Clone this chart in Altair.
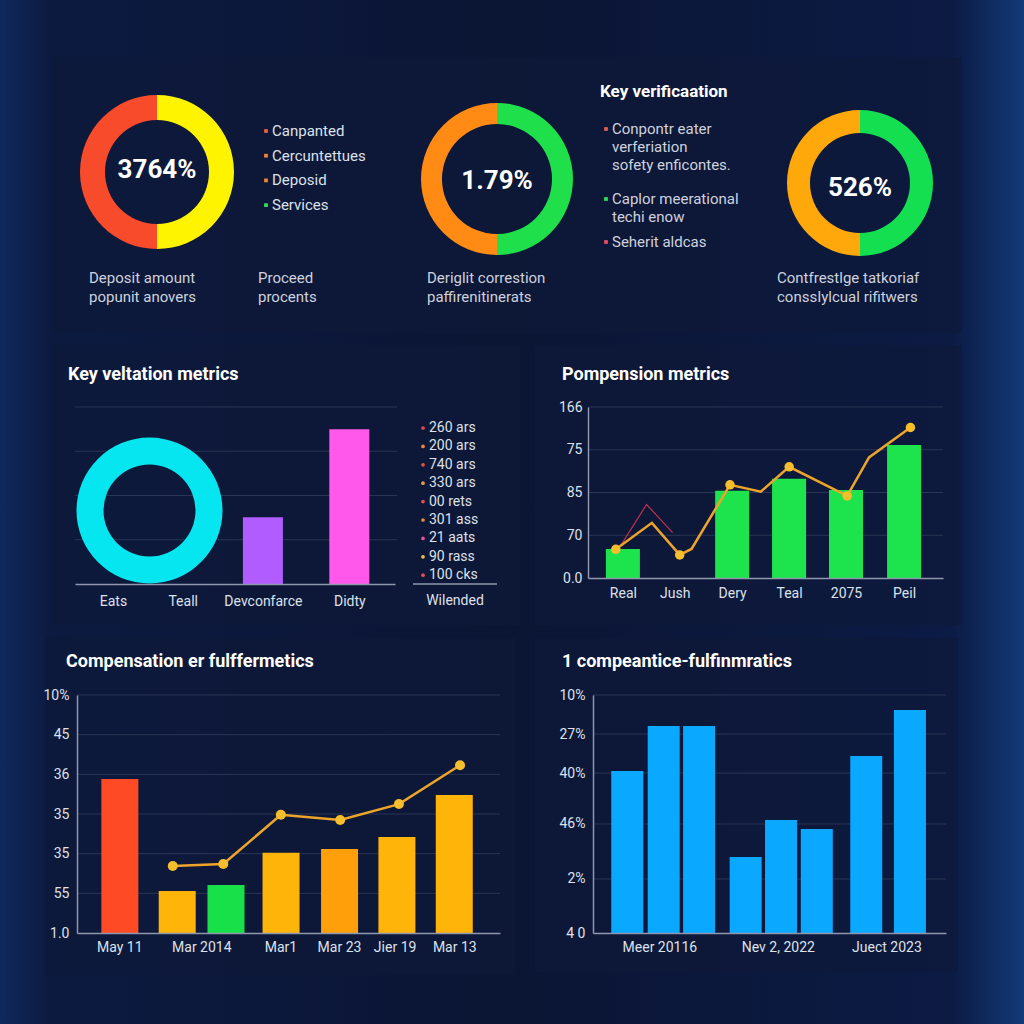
import altair as alt
import pandas as pd

# ------------------------------------------------------------------
# Values
# ------------------------------------------------------------------
# top row: three split rings with their side notes
ring_labels = ["3764%", "1.79%", "526%"]
ring_shares = [[50, 50], [50, 50], [50, 50]]
ring_colors = [["#fff400", "#f84b2b"], ["#1fdf4b", "#ff8b15"], ["#13df50", "#ffa80c"]]

status_items = ["Canpanted", "Cercuntettues", "Deposid", "Services"]
status_colors = ["#ef5f3a", "#f5862c", "#f5862c", "#2fdf5c"]

caption_lines = [
    ["Deposit amount", "popunit anovers"],
    ["Proceed", "procents"],
    ["Deriglit correstion", "paffirenitinerats"],
    ["Contfrestlge tatkoriaf", "conssIylcual rifitwers"],
]

verify_title = "Key verificaation"
verify_notes = [
    ["Conpontr eater", "verferiation", "sofety enficontes."],
    ["Caplor meerational", "techi enow"],
    ["Seherit aldcas"],
]
verify_colors = ["#e2604d", "#2fdf5c", "#e84a6c"]

# middle left: ring + two bars + side list
kv_title = "Key veltation metrics"
kv_categories = ["Eats", "Teall", "Devconfarce", "Didty"]
kv_bar_categories = ["Devconfarce", "Didty"]
kv_bar_values = [1.51, 3.5]
kv_bar_colors = ["#b05cff", "#ff58ea"]
kv_ring_share = [1]
kv_ring_color = "#05e6f0"
kv_list = ["260 ars", "200 ars", "740 ars", "330 ars", "00 rets",
           "301 ass", "21 aats", "90 rass", "100 cks"]
kv_list_colors = ["#e8484c", "#f0803a", "#e8503e", "#e3a03a", "#e64a5c",
                  "#e98a32", "#e8509a", "#f2c23a", "#e64a5c"]
kv_list_axis = "Wilended"

# middle right: bars with a trend line
pm_title = "Pompension metrics"
pm_categories = ["Real", "Jush", "Dery", "Teal", "2075", "Peil"]
pm_bar_values = [0.68, None, 2.04, 2.32, 2.06, 3.11]
pm_bar_color = "#1de44c"
pm_tick_labels = ["0.0", "70", "85", "75", "166"]
pm_line_x = [0.47, 1.08, 1.55, 1.75, 2.40, 2.92, 3.40, 4.38, 4.75, 5.45]
pm_line_y = [0.67, 1.29, 0.54, 0.68, 2.18, 2.02, 2.60, 1.92, 2.82, 3.52]
pm_line_marked = [True, False, True, False, True, False, True, True, False, True]
pm_thin_x = [0.54, 0.99, 1.43]
pm_thin_y = [0.73, 1.72, 1.06]

# bottom left: coloured bars with a trend line
cf_title = "Compensation er fulffermetics"
cf_categories = ["May 11", "Mar 2014", "Mar1", "Mar 23", "Jier 19", "Mar 13"]
cf_bar_values = [3.88, 1.06, 1.21, 2.02, 2.12, 2.42, 3.48]
cf_bar_colors = ["#ff4a26", "#ffb40a", "#18e048", "#ffb40a", "#ffa00a", "#ffb40a", "#ffb40a"]
cf_tick_labels = ["1.0", "55", "35", "35", "36", "45", "10%"]
cf_line_x = [1.63, 2.49, 3.47, 4.48, 5.48, 6.52]
cf_line_y = [1.69, 1.74, 2.98, 2.85, 3.25, 4.23]

# bottom right: grouped blue bars
bf_title = "1 compeantice-fulfinmratics"
bf_categories = ["Meer 20116", "Nev 2, 2022", "Juect 2023"]
bf_bar_values = [68.1, 87.0, 87.0, 31.9, 47.5, 43.7, 74.4, 93.7]
bf_bar_color = "#0aa8ff"
bf_tick_values = [0, 22.7, 45.8, 67.2, 83.6, 100]
bf_tick_labels = ["4 0", "2%", "46%", "40%", "27%", "10%"]

# ------------------------------------------------------------------
# Layout and style
# ------------------------------------------------------------------
W = H = 1024
FONT = "Roboto"
TEXT = "#dde1ea"
SOFT_TEXT = "#cdd2de"
AXIS_LINE = "#8e97ae"
GRID = "#2a3553"
PANEL = "#0f1939"
LINE_GOLD = "#eca52a"
DOT_GOLD = "#f6bd2c"

RING_GEOM = [(157, 172, 77, 52), (497, 179, 76, 55), (860, 183, 73, 50)]
RING_TEXT_Y = [170, 181, 188]
STATUS_X, STATUS_Y0, STATUS_STEP = 266, 131, 24.7
CAPTION_X = [89, 258, 427, 777]
CAPTION_Y0, CAPTION_STEP = 278, 19
VERIFY_X, VERIFY_TITLE_Y = 606, 92
VERIFY_GROUP_Y, VERIFY_STEP = [129, 199, 242], 18

PANELS = [(52, 57, 962, 333), (52, 345, 520, 625), (535, 345, 962, 625),
          (45, 638, 515, 975), (535, 638, 958, 972)]

# plot boxes: (left, right, baseline, top)
KV_BOX = (75, 395, 584, 407)
PM_BOX = (588, 943, 578, 407)
CF_BOX = (77, 500, 933, 695)
BF_BOX = (593, 946, 933, 695)

KV_SLOTS = [0.425, 1.325, 2.36, 3.475]
PM_SLOTS = [0.52, 1.42, 2.42, 3.41, 4.40, 5.41]
CF_BAR_SLOTS = [0.66, 1.66, 2.51, 3.47, 4.49, 5.49, 6.49]
CF_LABEL_SLOTS = [0.65, 2.08, 3.46, 4.48, 5.45, 6.49]
BF_BAR_SLOTS = [0.81, 1.82, 2.80, 4.09, 5.07, 6.06, 7.43, 8.64]
BF_LABEL_SLOTS = [1.70, 4.98, 7.99]

ONE = pd.DataFrame({"k": [0]})


def label_expr(values, labels):
    expr = "''"
    for v, t in reversed(list(zip(values, labels))):
        expr = f"abs(datum.value - ({v})) < 0.001 ? '{t}' : {expr}"
    return expr


def x_axis(values, labels, baseline, pad):
    return alt.Axis(orient="bottom", offset=baseline - H, values=values,
                    labelExpr=label_expr(values, labels), ticks=False, grid=False,
                    domainColor=AXIS_LINE, domainWidth=1.5, labelColor=TEXT,
                    labelFont=FONT, labelFontSize=14, labelPadding=pad,
                    labelFlush=False, labelOverlap=False, title=None, zindex=2)


def y_axis(values, labels, left, pad):
    return alt.Axis(orient="left", offset=-left, values=values,
                    labelExpr=label_expr(values, labels), ticks=False, grid=False,
                    domainColor=AXIS_LINE, domainWidth=1.5, labelColor=TEXT,
                    labelFont=FONT, labelFontSize=14, labelPadding=pad,
                    labelFlush=False, labelOverlap=False, title=None, zindex=2)


def lin(domain, rng):
    return alt.Scale(domain=domain, range=list(rng), nice=False, zero=False)


def box(x0, y0, x1, y1, color, opacity=1.0):
    return alt.Chart(ONE).mark_rect(color=color, opacity=opacity).encode(
        x=alt.value(x0), x2=alt.value(x1), y=alt.value(y0), y2=alt.value(y1))


def rule(x0, y0, x1, y1, color, width):
    return alt.Chart(ONE).mark_rule(color=color, strokeWidth=width).encode(
        x=alt.value(x0), x2=alt.value(x1), y=alt.value(y0), y2=alt.value(y1))


def texts(rows, size, weight="normal", color=TEXT, align="left"):
    df = pd.DataFrame(rows, columns=["t", "px", "py"])
    return alt.Chart(df).mark_text(font=FONT, fontSize=size, fontWeight=weight,
                                   color=color, align=align, baseline="middle").encode(
        x=alt.X("px:Q", scale=None, axis=None),
        y=alt.Y("py:Q", scale=None, axis=None),
        text="t:N")


def dots(rows, size, shape="square"):
    df = pd.DataFrame(rows, columns=["c", "px", "py"])
    return alt.Chart(df).mark_point(filled=True, shape=shape, size=size, opacity=1).encode(
        x=alt.X("px:Q", scale=None, axis=None),
        y=alt.Y("py:Q", scale=None, axis=None),
        color=alt.Color("c:N", scale=None))


def ring(shares, colors, cx, cy, r_out, r_in):
    df = pd.DataFrame({"slot": list(range(len(shares))), "share": shares, "color": colors})
    return alt.Chart(df).mark_arc(radius=r_out, radius2=r_in).encode(
        theta=alt.Theta("share:Q", stack=True),
        color=alt.Color("color:N", scale=None),
        order=alt.Order("slot:Q"),
        x=alt.value(cx), y=alt.value(cy))


def gridlines(values, yscale, x0, x1):
    df = pd.DataFrame({"v": values})
    return alt.Chart(df).mark_rule(color=GRID, strokeWidth=1).encode(
        y=alt.Y("v:Q", scale=yscale, axis=None), x=alt.value(x0), x2=alt.value(x1))


layers = []

# page background and panels
bg = alt.LinearGradient(gradient="linear", x1=0, x2=1, y1=0, y2=0, stops=[
    alt.GradientStop(offset=0, color="#10295c"),
    alt.GradientStop(offset=0.05, color="#0c1a40"),
    alt.GradientStop(offset=0.5, color="#0b1534"),
    alt.GradientStop(offset=0.93, color="#0c1b44"),
    alt.GradientStop(offset=1, color="#123a78"),
])
layers.append(alt.Chart(ONE).mark_rect(color=bg).encode(
    x=alt.value(0), x2=alt.value(W), y=alt.value(0), y2=alt.value(H)))
for (x0, y0, x1, y1) in PANELS:
    layers.append(box(x0, y0, x1, y1, PANEL, 0.6))

# ---- top row ----
for shares, colors, (cx, cy, ro, ri) in zip(ring_shares, ring_colors, RING_GEOM):
    layers.append(ring(shares, colors, cx, cy, ro, ri))
layers.append(texts([(t, g[0], ty) for t, g, ty in zip(ring_labels, RING_GEOM, RING_TEXT_Y)],
                    26, "bold", "#ffffff", "center"))

layers.append(dots([(c, STATUS_X, STATUS_Y0 + i * STATUS_STEP) for i, c in enumerate(status_colors)], 14))
layers.append(texts([(t, STATUS_X + 6, STATUS_Y0 + i * STATUS_STEP) for i, t in enumerate(status_items)], 15))

cap_rows = []
for cx, lines in zip(CAPTION_X, caption_lines):
    for j, t in enumerate(lines):
        cap_rows.append((t, cx, CAPTION_Y0 + j * CAPTION_STEP))
layers.append(texts(cap_rows, 15, color=SOFT_TEXT))

layers.append(texts([(verify_title, VERIFY_X - 6, VERIFY_TITLE_Y)], 17, "bold", "#ffffff"))
note_rows, note_dots = [], []
for gy, lines, c in zip(VERIFY_GROUP_Y, verify_notes, verify_colors):
    note_dots.append((c, VERIFY_X, gy))
    for j, t in enumerate(lines):
        note_rows.append((t, VERIFY_X + 6, gy + j * VERIFY_STEP))
layers.append(dots(note_dots, 14))
layers.append(texts(note_rows, 15, color=SOFT_TEXT))

# ---- middle left ----
kx0, kx1, kyb, kyt = KV_BOX
kv_xs = lin([0, 4], (kx0, kx1))
kv_ys = lin([0, 4], (kyb, kyt))
layers.append(gridlines([1, 2, 3, 4], kv_ys, kx0, kx1 + 2))
layers.append(ring(kv_ring_share, [kv_ring_color], 149.5, 510.5, 73, 46))
kv_df = pd.DataFrame({
    "slot": [KV_SLOTS[kv_categories.index(c)] for c in kv_bar_categories],
    "value": kv_bar_values, "color": kv_bar_colors})
layers.append(alt.Chart(kv_df).mark_bar(size=40, orient="vertical").encode(
    x=alt.X("slot:Q", scale=kv_xs, axis=x_axis(KV_SLOTS, kv_categories, kyb, 10)),
    y=alt.Y("value:Q", scale=kv_ys, axis=None),
    color=alt.Color("color:N", scale=None)))

list_y0, list_step = 428, 18.4
layers.append(dots([(c, 423, list_y0 + i * list_step) for i, c in enumerate(kv_list_colors)], 14, "circle"))
layers.append(texts([(t, 429, list_y0 + i * list_step) for i, t in enumerate(kv_list)], 14))
layers.append(rule(413, kyb, 497, kyb, AXIS_LINE, 1.5))
layers.append(texts([(kv_list_axis, 455, 601)], 14, align="center"))
layers.append(texts([(kv_title, 68, 375)], 18, "bold", "#ffffff"))

# ---- middle right ----
px0, px1, pyb, pyt = PM_BOX
pm_xs = lin([0, 6], (px0, px1))
pm_ys = lin([0, 4], (pyb, pyt))
layers.append(gridlines([1, 2, 3, 4], pm_ys, px0, px1))
pm_df = pd.DataFrame({"slot": PM_SLOTS, "value": pm_bar_values}).dropna()
layers.append(alt.Chart(pm_df).mark_bar(size=34, orient="vertical", color=pm_bar_color).encode(
    x=alt.X("slot:Q", scale=pm_xs, axis=x_axis(PM_SLOTS, pm_categories, pyb, 8)),
    y=alt.Y("value:Q", scale=pm_ys, axis=y_axis([0, 1, 2, 3, 4], pm_tick_labels, px0, 6))))
thin_df = pd.DataFrame({"x": pm_thin_x, "y": pm_thin_y})
layers.append(alt.Chart(thin_df).mark_line(color="#c0304e", strokeWidth=1.2).encode(
    x=alt.X("x:Q", scale=pm_xs, axis=None), y=alt.Y("y:Q", scale=pm_ys, axis=None)))
pm_line_df = pd.DataFrame({"x": pm_line_x, "y": pm_line_y, "dot": pm_line_marked})
layers.append(alt.Chart(pm_line_df).mark_line(color=LINE_GOLD, strokeWidth=2.5).encode(
    x=alt.X("x:Q", scale=pm_xs, axis=None), y=alt.Y("y:Q", scale=pm_ys, axis=None)))
layers.append(alt.Chart(pm_line_df[pm_line_df["dot"]]).mark_circle(size=90, color=DOT_GOLD, opacity=1).encode(
    x=alt.X("x:Q", scale=pm_xs, axis=None), y=alt.Y("y:Q", scale=pm_ys, axis=None)))
layers.append(texts([(pm_title, 562, 375)], 18, "bold", "#ffffff"))

# ---- bottom left ----
cx0, cx1, cyb, cyt = CF_BOX
cf_xs = lin([0, 7.2], (cx0, cx1))
cf_ys = lin([0, 6], (cyb, cyt))
layers.append(gridlines([1, 2, 3, 4, 5, 6], cf_ys, cx0, cx1))
cf_df = pd.DataFrame({"slot": CF_BAR_SLOTS, "value": cf_bar_values, "color": cf_bar_colors})
layers.append(alt.Chart(cf_df).mark_bar(size=37, orient="vertical").encode(
    x=alt.X("slot:Q", scale=cf_xs, axis=x_axis(CF_LABEL_SLOTS, cf_categories, cyb, 7)),
    y=alt.Y("value:Q", scale=cf_ys, axis=y_axis(list(range(7)), cf_tick_labels, cx0, 8)),
    color=alt.Color("color:N", scale=None)))
cf_line_df = pd.DataFrame({"x": cf_line_x, "y": cf_line_y})
layers.append(alt.Chart(cf_line_df).mark_line(color=LINE_GOLD, strokeWidth=2.5).encode(
    x=alt.X("x:Q", scale=cf_xs, axis=None), y=alt.Y("y:Q", scale=cf_ys, axis=None)))
layers.append(alt.Chart(cf_line_df).mark_circle(size=100, color=DOT_GOLD, opacity=1).encode(
    x=alt.X("x:Q", scale=cf_xs, axis=None), y=alt.Y("y:Q", scale=cf_ys, axis=None)))
layers.append(texts([(cf_title, 66, 662)], 18, "bold", "#ffffff"))

# ---- bottom right ----
bx0, bx1, byb, byt = BF_BOX
bf_xs = lin([0, 9.5], (bx0, bx1))
bf_ys = lin([0, 100], (byb, byt))
layers.append(gridlines(bf_tick_values[1:], bf_ys, bx0, bx1))
bf_df = pd.DataFrame({"slot": BF_BAR_SLOTS, "value": bf_bar_values})
layers.append(alt.Chart(bf_df).mark_bar(size=32, orient="vertical", color=bf_bar_color).encode(
    x=alt.X("slot:Q", scale=bf_xs, axis=x_axis(BF_LABEL_SLOTS, bf_categories, byb, 7)),
    y=alt.Y("value:Q", scale=bf_ys, axis=y_axis(bf_tick_values, bf_tick_labels, bx0, 8))))
layers.append(texts([(bf_title, 562, 662)], 18, "bold", "#ffffff"))

chart = alt.layer(*layers).resolve_scale(
    x="independent", y="independent", theta="independent"
).resolve_axis(
    x="independent", y="independent"
).properties(
    width=W, height=H, padding=0, autosize=alt.AutoSizeParams(type="none")
).configure(
    background="#0b1534", font=FONT
).configure_view(stroke=None)

chart.save("out.html", embed_options={"renderer": "svg", "actions": False})
